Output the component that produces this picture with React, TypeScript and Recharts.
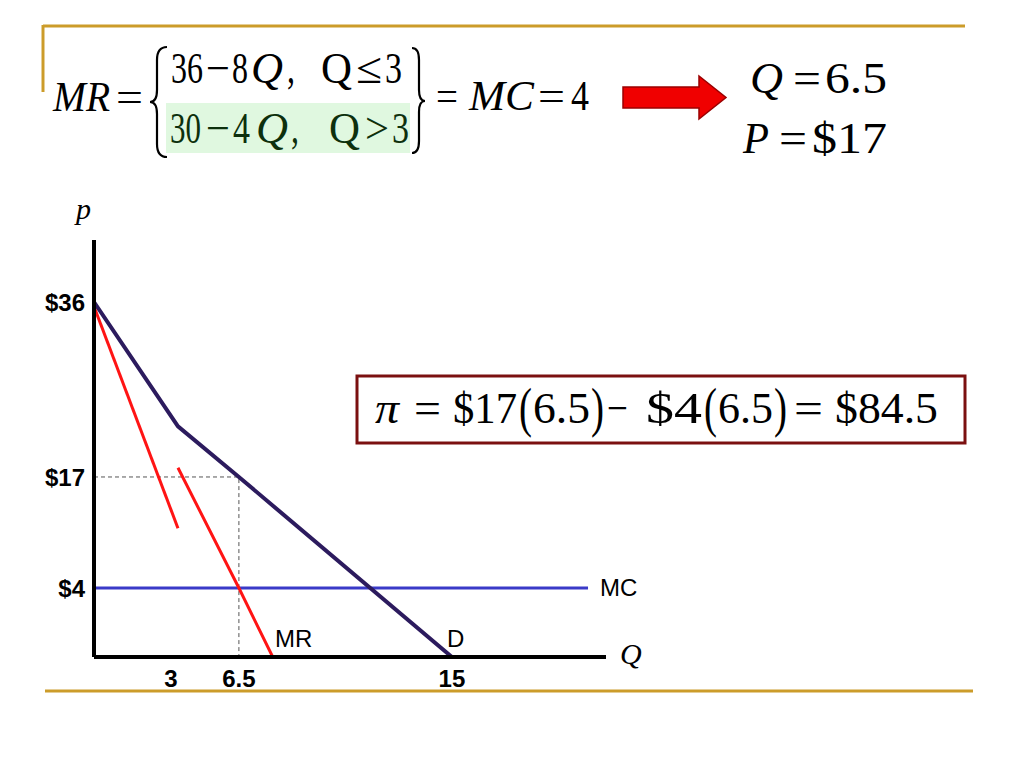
import React from 'react';
import { LineChart, Line, XAxis, YAxis } from 'recharts';

// ---- tick values ----
const qTicks: number[] = [3, 6.5, 15];
const pTicks: number[] = [4, 17, 36];
const qAxisMax = 21;
const pAxisMax = 42.5;

// ---- series (quantity q, price p) ----
const demand = [
  { q: 0, p: 36 },
  { q: 3, p: 22.5 },
  { q: 6.5, p: 17 },
  { q: 15, p: 0 },
];
const mrUpper = [
  { q: 0, p: 35.5 },
  { q: 3, p: 11 },
];
const mrLower = [
  { q: 3, p: 18 },
  { q: 6.5, p: 4 },
  { q: 7.85, p: 0 },
];
const mcLine = [
  { q: 0, p: 4 },
  { q: 20.3, p: 4 },
];
const optimum = [
  { q: 0, p: 17 },
  { q: 6.5, p: 17 },
  { q: 6.5, p: 0 },
];

// ---- axis layout: the schematic axes are not drawn to uniform scale ----
const xStops = [0, 3, 6.5, 15, qAxisMax];
const xFracs = [0, 0.164, 0.283, 0.699, 1];
const yStops = [0, 4, 17, 36, pAxisMax];
const yFracs = [0, 0.1655, 0.4317, 0.8513, 1];

function piecewiseScale(stops: number[], fracs: number[]): any {
  let dom = [stops[0], stops[stops.length - 1]];
  let rng = [0, 1];
  const s: any = (v: number) => {
    let i = 0;
    while (i < stops.length - 2 && v > stops[i + 1]) i++;
    const t = (v - stops[i]) / (stops[i + 1] - stops[i]);
    const f = fracs[i] + t * (fracs[i + 1] - fracs[i]);
    return rng[0] + f * (rng[1] - rng[0]);
  };
  s.domain = (d?: number[]) => {
    if (d === undefined) return dom.slice();
    dom = d.slice();
    return s;
  };
  s.range = (r?: number[]) => {
    if (r === undefined) return rng.slice();
    rng = r.slice();
    return s;
  };
  s.copy = () => {
    const c = piecewiseScale(stops, fracs);
    c.domain(dom);
    c.range(rng);
    return c;
  };
  s.ticks = () => stops.slice();
  s.nice = () => s;
  s.clamp = () => s;
  s.tickFormat = () => (v: number) => String(v);
  s.invert = (px: number) => {
    const f = (px - rng[0]) / (rng[1] - rng[0]);
    let i = 0;
    while (i < fracs.length - 2 && f > fracs[i + 1]) i++;
    const t = (f - fracs[i]) / (fracs[i + 1] - fracs[i]);
    return stops[i] + t * (stops[i + 1] - stops[i]);
  };
  return s;
}

const xScale = piecewiseScale(xStops, xFracs);
const yScale = piecewiseScale(yStops, yFracs);

const SERIF = '"Liberation Serif", "Times New Roman", serif';
const SANS = '"Liberation Sans", Arial, sans-serif';
const GOLD = '#cc9c2a';
const ROW2 = '#0d300d';

type Seg = { t: string; x: number; w: number; italic?: boolean };

// a row of math text; ky stretches it vertically about the baseline
const Row = ({
  y,
  segs,
  fill = '#000',
  size = 43,
  ky = 1,
}: {
  y: number;
  segs: Seg[];
  fill?: string;
  size?: number;
  ky?: number;
}) => (
  <text
    y={y / ky}
    fontFamily={SERIF}
    fontSize={size}
    fill={fill}
    transform={ky !== 1 ? `scale(1 ${ky})` : undefined}
  >
    {segs.map((s, i) => (
      <tspan
        key={i}
        x={s.x}
        y={y / ky}
        fontStyle={s.italic ? 'italic' : 'normal'}
        textLength={s.w}
        lengthAdjust="spacingAndGlyphs"
      >
        {s.t}
      </tspan>
    ))}
  </text>
);

// tall parenthesis
const Paren = ({ x, y, t }: { x: number; y: number; t: string }) => (
  <text
    x={x}
    y={y / 1.6}
    fontFamily={SERIF}
    fontSize={34}
    transform="scale(1 1.6)"
    textLength={13}
    lengthAdjust="spacingAndGlyphs"
  >
    {t}
  </text>
);

const tickStyle = { fontFamily: SANS, fontSize: 24, fontWeight: 700, fill: '#000' };

const XTick = (props: any) => {
  const { x, y, payload } = props;
  const shift = payload.value === 3 ? -7 : 0;
  return (
    <text x={x + shift} y={y} dy="0.71em" textAnchor="middle" {...tickStyle}>
      {payload.value}
    </text>
  );
};

export default function App() {
  return (
    <div style={{ position: 'fixed', left: 0, top: 0, width: 1024, height: 768, background: '#fff' }}>
      <div style={{ position: 'absolute', left: 0, top: 0 }}>
        <LineChart
          width={1024}
          height={768}
          margin={{ top: 240, right: 418, bottom: 71, left: 24 }}
        >
          <XAxis
            type="number"
            dataKey="q"
            domain={[0, qAxisMax]}
            scale={xScale}
            ticks={qTicks}
            interval={0}
            allowDataOverflow
            height={40}
            axisLine={{ stroke: '#000', strokeWidth: 4 }}
            tickLine={false}
            tickSize={0}
            tickMargin={13}
            tick={<XTick />}
          />
          <YAxis
            type="number"
            dataKey="p"
            domain={[0, pAxisMax]}
            scale={yScale}
            ticks={pTicks}
            interval={0}
            allowDataOverflow
            width={70}
            axisLine={{ stroke: '#000', strokeWidth: 4 }}
            tickLine={false}
            tickSize={0}
            tickMargin={9}
            tick={tickStyle}
            tickFormatter={(v: number) => `$${v}`}
          />
          <Line data={optimum} dataKey="p" type="linear" stroke="#555" strokeWidth={1} strokeDasharray="4 3" dot={false} isAnimationActive={false} />
          <Line data={mcLine} dataKey="p" type="linear" stroke="#3a3ac8" strokeWidth={3} dot={false} isAnimationActive={false} />
          <Line data={mrUpper} dataKey="p" type="linear" stroke="#ff1414" strokeWidth={3} dot={false} isAnimationActive={false} />
          <Line data={mrLower} dataKey="p" type="linear" stroke="#ff1414" strokeWidth={3} dot={false} isAnimationActive={false} />
          <Line data={demand} dataKey="p" type="linear" stroke="#2c1b5e" strokeWidth={4} dot={false} isAnimationActive={false} />
        </LineChart>
      </div>
      <svg
        width={1024}
        height={768}
        style={{ position: 'absolute', left: 0, top: 0, pointerEvents: 'none' }}
      >
        {/* slide decorations */}
        <line x1={43} y1={26} x2={965} y2={26} stroke={GOLD} strokeWidth={3} />
        <line x1={43} y1={25} x2={43} y2={92} stroke={GOLD} strokeWidth={3} />
        <line x1={45} y1={691} x2={973} y2={691} stroke={GOLD} strokeWidth={3} />

        {/* MR equation */}
        <rect x={166} y={103} width={244} height={50} fill="#e0f8e0" />
        <Row
          y={111}
          segs={[
            { t: 'MR', x: 53, w: 57, italic: true },
            { t: '=', x: 116, w: 27 },
          ]}
        />
        <path
          d="M167,47 Q157,47 157,60 L157,90 Q157,102 150,102 Q157,102 157,114 L157,144 Q157,157 167,157"
          fill="none"
          stroke="#000"
          strokeWidth={2.2}
        />
        <Row
          y={83}
          size={34}
          ky={1.3}
          segs={[
            { t: '36', x: 171, w: 32 },
            { t: '−', x: 206, w: 24 },
            { t: '8', x: 232, w: 16 },
            { t: 'Q', x: 251, w: 32, italic: true },
            { t: ',', x: 287, w: 8 },
            { t: 'Q', x: 321, w: 31 },
            { t: '≤', x: 356, w: 26 },
            { t: '3', x: 385, w: 17 },
          ]}
        />
        <Row
          y={143}
          size={34}
          ky={1.3}
          fill={ROW2}
          segs={[
            { t: '30', x: 170, w: 31 },
            { t: '−', x: 206, w: 24 },
            { t: '4', x: 233, w: 17 },
            { t: 'Q', x: 256, w: 32, italic: true },
            { t: ',', x: 291, w: 8 },
            { t: 'Q', x: 329, w: 31 },
            { t: '>', x: 365, w: 24 },
            { t: '3', x: 392, w: 17 },
          ]}
        />
        <path
          d="M412,48 Q419,48 419,60 L419,90 Q419,101 425,101 Q419,101 419,112 L419,141 Q419,153 412,153"
          fill="none"
          stroke="#000"
          strokeWidth={2.2}
        />
        <Row
          y={110}
          segs={[
            { t: '=', x: 436, w: 22 },
            { t: 'MC', x: 469, w: 65, italic: true },
            { t: '=', x: 538, w: 27 },
            { t: '4', x: 571, w: 18 },
          ]}
        />

        {/* arrow */}
        <polygon
          points="623,87 699,87 699,76 726,97.5 699,119 699,108 623,108"
          fill="#f00000"
          stroke="#9a0000"
          strokeWidth={1.5}
        />

        {/* result */}
        <Row
          y={93}
          size={44}
          segs={[
            { t: 'Q', x: 750, w: 33, italic: true },
            { t: '=', x: 793, w: 28 },
            { t: '6.5', x: 825, w: 62 },
          ]}
        />
        <Row
          y={153}
          size={44}
          segs={[
            { t: 'P', x: 743, w: 26, italic: true },
            { t: '=', x: 779, w: 28 },
            { t: '$17', x: 812, w: 75 },
          ]}
        />

        {/* profit box */}
        <rect x={357} y={376} width={608} height={67} fill="#fff" stroke="#7b1010" strokeWidth={3} />
        <Row
          y={423}
          size={44}
          segs={[
            { t: 'π', x: 375, w: 24, italic: true },
            { t: '=', x: 414, w: 27 },
            { t: '$17', x: 453, w: 64 },
            { t: '6.5', x: 533, w: 57 },
            { t: '−', x: 607, w: 21 },
            { t: '$4', x: 646, w: 56 },
            { t: '6.5', x: 718, w: 55 },
            { t: '=', x: 794, w: 29 },
            { t: '$84.5', x: 835, w: 103 },
          ]}
        />
        <Paren x={519} y={426} t="(" />
        <Paren x={591} y={426} t=")" />
        <Paren x={704} y={426} t="(" />
        <Paren x={774} y={426} t=")" />

        {/* axis titles and curve labels */}
        <text x={76} y={219} fontSize={30} fontStyle="italic" fontFamily={SERIF}>p</text>
        <text x={620} y={664} fontSize={30} fontStyle="italic" fontFamily={SERIF}>Q</text>
        <text x={275} y={647} fontSize={24} fontFamily={SANS}>MR</text>
        <text x={447} y={647} fontSize={24} fontFamily={SANS}>D</text>
        <text x={600} y={596} fontSize={24} fontFamily={SANS}>MC</text>
      </svg>
    </div>
  );
}
